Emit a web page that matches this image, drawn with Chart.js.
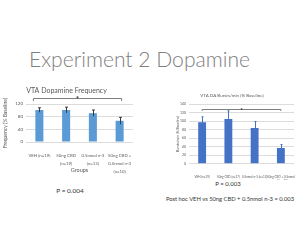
<!DOCTYPE html>
<html>
<head>
<meta charset="utf-8">
<script src="https://cdn.jsdelivr.net/npm/chart.js@4"></script>
<style>
  body { margin: 0; background: #fff; }
  #page { position: relative; width: 300px; height: 250px; overflow: hidden; font-family: Lato, sans-serif; }
  .txt { position: absolute; white-space: nowrap; text-align: center; color: #333; }
  #mainTitle { position: absolute; left: 29px; top: 49px; font-size: 21.5px; line-height: 21.5px; color: #808080; font-weight: 300; white-space: nowrap; transform-origin: 0 0; }
  canvas { position: absolute; }
</style>
</head>
<body>
<div id="page">
  <div id="mainTitle">Experiment 2 Dopamine</div>
  <canvas id="left" width="145" height="95" style="left:0;top:85px"></canvas>
  <canvas id="right" width="130" height="92" style="left:170px;top:88px"></canvas>
  <div class="txt" style="left:40px;top:186.5px;width:60px;font-size:6.5px;line-height:7px">P = 0.004</div>
  <div class="txt" style="left:198px;top:180.5px;width:60px;font-size:6px;line-height:6px">P = 0.003</div>
  <div class="txt" style="left:150px;top:196px;width:160px;font-size:5.8px;line-height:6px">Post hoc VEH vs 50ng CBD + 0.5nmol n-3 = 0.003</div>
</div>
<script>
// datos del grafico izquierdo (frecuencia)
const leftGroups = ['VEH (n=19)', ['50ng CBD', '(n=19)'], ['0.5nmol n-3', '(n=13)'], ['50ng CBD +', '0.5nmol n-3', '(n=10)']];
const leftValues = [101, 101, 91, 67];
const leftErrors = [7, 9, 10, 11];
const leftTicks = [0, 20, 40, 60, 80, 100, 120];

// datos del grafico derecho (bursts/min)
const rightGroups = ['VEH (n=19)', '50ng CBD (n=17)', '0.5nmol n-3 (n=13)', ['50ng CBD + 0.5nmol', 'n-3 (n=10)']];
const rightValues = [97, 105, 84, 37];
const rightErrors = [13, 19, 15, 8];
const rightTicks = [0, 20, 40, 60, 80, 100, 120, 140];

// ajustar el ancho del titulo principal
const mt = document.getElementById('mainTitle');
mt.style.transform = 'scaleX(' + (221 / mt.getBoundingClientRect().width) + ')';

// barras de error
const errorBars = {
  id: 'errorBars',
  afterDatasetsDraw(chart) {
    const ctx = chart.ctx;
    const ds = chart.data.datasets[0];
    const meta = chart.getDatasetMeta(0);
    const y = chart.scales.y;
    ctx.save();
    ctx.strokeStyle = ds.errorColor;
    ctx.lineWidth = 1;
    meta.data.forEach((bar, i) => {
      const top = y.getPixelForValue(ds.data[i] + ds.errors[i]);
      const bot = y.getPixelForValue(ds.data[i] - ds.errors[i]);
      const x = Math.round(bar.x) + 0.5;
      ctx.beginPath();
      ctx.moveTo(x, bot);
      ctx.lineTo(x, top);
      ctx.moveTo(x - ds.capWidth, top);
      ctx.lineTo(x + ds.capWidth, top);
      ctx.stroke();
    });
    ctx.restore();
  }
};

// corchete de significancia con asterisco
const bracket = {
  id: 'bracket',
  afterDraw(chart, args, opts) {
    const ctx = chart.ctx;
    const x = chart.scales.x, y = chart.scales.y;
    const x1 = x.getPixelForValue(opts.from) + opts.padLeft;
    const x2 = x.getPixelForValue(opts.to) + opts.padRight;
    const yy = Math.round(y.getPixelForValue(opts.value)) + 0.5;
    ctx.save();
    ctx.strokeStyle = '#7f7f7f';
    ctx.lineWidth = 1;
    ctx.beginPath();
    ctx.moveTo(x1, yy + opts.drop);
    ctx.lineTo(x1, yy);
    ctx.lineTo(x2, yy);
    ctx.lineTo(x2, yy + opts.drop);
    ctx.stroke();
    ctx.fillStyle = '#222';
    ctx.font = 'bold ' + opts.size + 'px Lato';
    ctx.textAlign = 'center';
    ctx.textBaseline = 'middle';
    ctx.fillText('*', (x1 + x2) / 2, yy + opts.size * 0.15);
    ctx.restore();
  }
};

function makeChart(id, cfg) {
  return new Chart(document.getElementById(id), {
    type: 'bar',
    data: {
      labels: cfg.labels,
      datasets: [{
        data: cfg.values,
        errors: cfg.errors,
        errorColor: cfg.errorColor,
        capWidth: cfg.capWidth,
        backgroundColor: cfg.color,
        categoryPercentage: 1,
        barPercentage: 0.3
      }]
    },
    options: {
      responsive: false,
      animation: false,
      layout: { padding: { left: 0, right: cfg.padRight, top: 0, bottom: 0 } },
      plugins: {
        legend: { display: false },
        tooltip: { enabled: false },
        title: {
          display: true,
          text: cfg.title,
          color: '#595959',
          font: { family: 'Lato', size: cfg.titleSize, weight: 'normal' },
          padding: cfg.titlePad
        },
        bracket: cfg.bracket
      },
      scales: {
        x: {
          afterFit: s => { s.height = cfg.xHeight; },
          grid: { display: false },
          border: { display: false },
          ticks: {
            color: '#595959',
            font: { family: 'Lato', size: cfg.xFont, lineHeight: cfg.xLine },
            padding: cfg.xPad,
            maxRotation: 0,
            autoSkip: false
          },
          title: cfg.xTitle
        },
        y: {
          min: 0,
          max: cfg.ticks[cfg.ticks.length - 1],
          afterFit: s => { s.width = cfg.yWidth; },
          afterBuildTicks: s => { s.ticks = cfg.ticks.map(v => ({ value: v })); },
          grid: { color: '#dcdcdc', drawTicks: false },
          border: { display: false },
          ticks: {
            color: '#595959',
            font: { family: 'Lato', size: cfg.yFont },
            padding: 3
          },
          title: {
            display: true,
            text: cfg.yTitle,
            color: '#595959',
            font: { family: 'Lato', size: cfg.yTitleSize },
            padding: { top: cfg.yTitlePad, bottom: 0 }
          }
        }
      }
    },
    plugins: [errorBars, bracket]
  });
}

makeChart('left', {
  labels: leftGroups, values: leftValues, errors: leftErrors, ticks: leftTicks,
  color: '#5B9BD5', errorColor: '#3a3a3a', capWidth: 1.5,
  title: 'VTA Dopamine Frequency', titleSize: 7, titlePad: { top: 2, bottom: 8.6 },
  padRight: 12, xHeight: 38, xFont: 4.3, xLine: 1.8, xPad: 2,
  xTitle: { display: true, text: 'Groups', color: '#595959', font: { family: 'Lato', size: 5.5 }, padding: { top: 0, bottom: 6 } },
  yWidth: 26, yFont: 4.5, yTitle: 'Frequency (% Baseline)', yTitleSize: 5, yTitlePad: 2,
  bracket: { from: 0, to: 3, value: 138, padLeft: -6, padRight: 2, drop: 2.5, size: 7 }
});

makeChart('right', {
  labels: rightGroups, values: rightValues, errors: rightErrors, ticks: rightTicks,
  color: '#4472C4', errorColor: '#4472C4', capWidth: 1,
  title: 'VTA DA Bursts/min (% Baseline)', titleSize: 4.5, titlePad: { top: 5.3, bottom: 5.3 },
  padRight: 6, xHeight: 16.3, xFont: 3, xLine: 1.2, xPad: 3.5,
  xTitle: { display: false },
  yWidth: 19, yFont: 3.5, yTitle: 'Bursts/min (% Baseline)', yTitleSize: 3.5, yTitlePad: 6,
  bracket: { from: 0, to: 3, value: 128, padLeft: 0, padRight: 0, drop: 1.5, size: 5 }
});
</script>
</body>
</html>
